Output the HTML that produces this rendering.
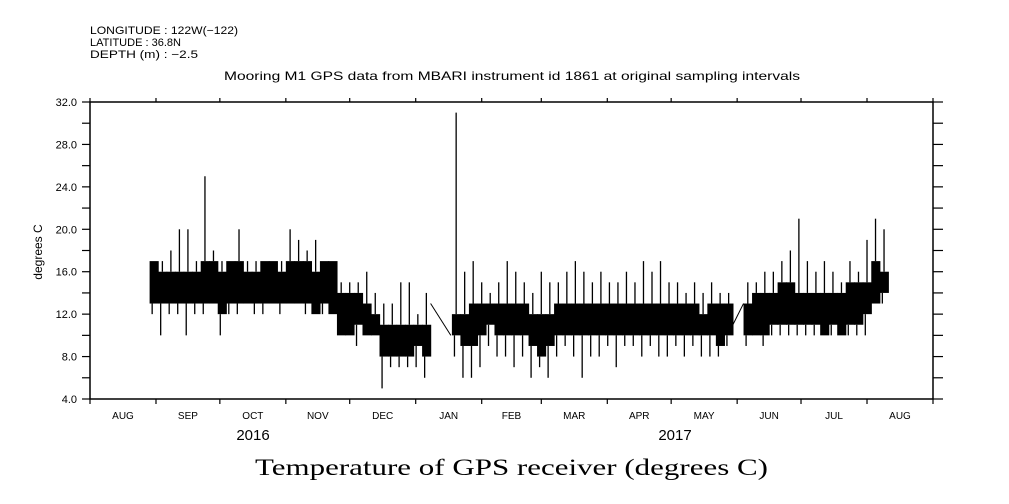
<!DOCTYPE html>
<html><head><meta charset="utf-8"><style>
html,body{margin:0;padding:0;background:#fff;}
svg{display:block;font-family:"Liberation Sans",sans-serif;}
</style></head><body>
<svg id="chart" width="1009" height="504" viewBox="0 0 1009 504">
<g font-size="11" fill="#000">
<text x="90" y="34" textLength="148" lengthAdjust="spacingAndGlyphs">LONGITUDE : 122W(−122)</text>
<text x="90" y="46" textLength="91" lengthAdjust="spacingAndGlyphs">LATITUDE : 36.8N</text>
<text x="90" y="58" textLength="108" lengthAdjust="spacingAndGlyphs">DEPTH (m) : −2.5</text>
</g>
<text x="224" y="80" font-size="12" textLength="576" lengthAdjust="spacingAndGlyphs">Mooring M1 GPS data from MBARI instrument id 1861 at original sampling intervals</text>
<text transform="translate(42,252) rotate(-90)" text-anchor="middle" font-size="12">degrees C</text>
<text x="255" y="475" font-family="'Liberation Serif',serif" font-size="23" textLength="513" lengthAdjust="spacingAndGlyphs">Temperature of GPS receiver (degrees C)</text>
<g id="axes"></g>
<g id="marks"></g>
</svg>
<script>
const binDays = [28,32,36,40,44,48,52,56,60,64,68,72,76,80,84,88,92,96,100,104,108,112,116,120,124,128,132,136,140,144,148,152,156,
170,174,178,182,186,190,194,198,202,206,210,214,218,222,226,230,234,238,242,246,250,254,258,262,266,270,274,278,282,286,290,294,298,
307,311,315,319,323,327,331,335,339,343,347,351,355,359,363,367,371];
const lowVals = [12,10,12,12,10,12,12,13,10,12,12,13,12,12,13,12,13,13,12,12,12,12,10,10,9,10,10,5,7,7,7,7,6,
8,6,6,7,9,8,8,7,8,6,7,6,8,9,8,6,8,8,9,7,9,9,8,9,8,8,9,8,9,8,8,8,9,
9,10,9,10,10,10,10,10,10,10,10,10,10,10,10,13,13];
const coreLowVals = [13,13,13,13,13,13,13,13,12,13,13,13,13,13,13,13,13,13,13,12,13,12,10,10,11,10,10,8,8,8,8,9,8,
10,9,9,10,11,10,10,10,10,9,8,9,10,10,10,10,10,10,10,10,10,10,10,10,10,10,10,10,10,10,10,9,10,
10,10,10,11,11,11,11,11,11,10,11,10,11,11,12,13,14];
const coreHighVals = [17,16,16,16,16,16,17,17,16,17,17,16,16,17,17,16,17,17,17,16,17,17,14,14,14,13,12,11,11,11,11,11,11,
12,12,13,13,13,13,13,13,13,12,12,12,13,13,13,13,13,13,13,13,13,13,13,13,13,13,13,13,13,12,13,13,13,
13,14,14,14,15,15,14,14,14,14,14,14,15,15,15,17,16];
const highVals = [17,17,18,20,20,17,25,18,17,17,20,17,17,17,17,17,20,19,18,19,17,17,15,15,15,16,14,13,13,15,15,12,14,
31,16,17,15,14,15,17,16,15,14,16,15,15,16,17,16,15,16,15,15,16,15,17,16,17,15,15,14,15,14,15,14,14,
15,15,16,16,17,18,21,17,16,17,16,15,17,16,19,21,20];
const gapDays = [[160,169.5],[302,307]];
const gapTemps = [[13,10],[11,13]];
const yTicks = [4,6,8,10,12,14,16,18,20,22,24,26,28,30,32];
const yLabels = ["4.0","8.0","12.0","16.0","20.0","24.0","28.0","32.0"];
const monthLabels = ["AUG","SEP","OCT","NOV","DEC","JAN","FEB","MAR","APR","MAY","JUN","JUL","AUG"];
const monthStarts = [0,31,61,92,122,153,184,212,243,273,304,334,365,396];
const yearLabels = ["2016","2017"];

const X0=90,X1=933,Y0=399,Y1=102,D0=0,D1=396,T0=4,T1=32;
const xs = d => X0+(d-D0)*(X1-X0)/(D1-D0);
const ys = t => Y0-(t-T0)*(Y0-Y1)/(T1-T0);
const NS="http://www.w3.org/2000/svg";
function mk(tag,attrs,parent){const e=document.createElementNS(NS,tag);for(const k in attrs)e.setAttribute(k,attrs[k]);parent.appendChild(e);return e;}
const axes=document.getElementById('axes'), marks=document.getElementById('marks');

const frame=mk('rect',{x:X0,y:Y1,width:X1-X0,height:Y0-Y1,fill:'none',stroke:'#000','stroke-width':1.5},axes);


yTicks.forEach(t=>{
  const l=mk('line',{x1:X0-8,x2:X0,y1:ys(t),y2:ys(t),stroke:'#000','stroke-width':1.2},axes);
  
  
  const r=mk('line',{x1:X1,x2:X1+10,y1:ys(t),y2:ys(t),stroke:'#000','stroke-width':1.2},axes);
  
  
});
yLabels.forEach(s=>{
  const tx=mk('text',{x:X0-13,y:ys(parseFloat(s))+4,'text-anchor':'end','font-size':11},axes);
  tx.textContent=s;
  
  
});
monthStarts.forEach(d=>{
  const b=mk('line',{x1:xs(d),x2:xs(d),y1:Y0,y2:Y0+5,stroke:'#000','stroke-width':1.2},axes);
  
  
  const t=mk('line',{x1:xs(d),x2:xs(d),y1:Y1-4,y2:Y1,stroke:'#000','stroke-width':1.2},axes);
  
  
});
monthLabels.forEach((m,i)=>{
  const tx=mk('text',{x:(xs(monthStarts[i])+xs(monthStarts[i+1]))/2,y:419,'text-anchor':'middle','font-size':10},axes);
  tx.textContent=m;
  
  
});
[[yearLabels[0],253],[yearLabels[1],675]].forEach(([s,x])=>{
  const tx=mk('text',{x:x,y:440,'text-anchor':'middle','font-size':15},axes);
  tx.textContent=s;
  
  
});

const w = xs(4)-xs(0);
binDays.forEach((d,i)=>{
  const x=xs(d);
  const c=mk('rect',{x:x,y:ys(coreHighVals[i]),width:w+0.6,height:ys(coreLowVals[i])-ys(coreHighVals[i]),fill:'#000'},marks);
  
  
  const h=mk('line',{x1:x+w*0.5,x2:x+w*0.5,y1:ys(highVals[i]),y2:ys(coreHighVals[i]),stroke:'#000','stroke-width':1.3},marks);
  
  
  const lo=mk('line',{x1:x+w*0.3,x2:x+w*0.3,y1:ys(coreLowVals[i]),y2:ys(lowVals[i]),stroke:'#000','stroke-width':1.3},marks);
  
  
});
gapDays.forEach((g,i)=>{
  const l=mk('line',{x1:xs(g[0]),x2:xs(g[1]),y1:ys(gapTemps[i][0]),y2:ys(gapTemps[i][1]),stroke:'#000','stroke-width':1},marks);
  
  
});
</script>
</body></html>
